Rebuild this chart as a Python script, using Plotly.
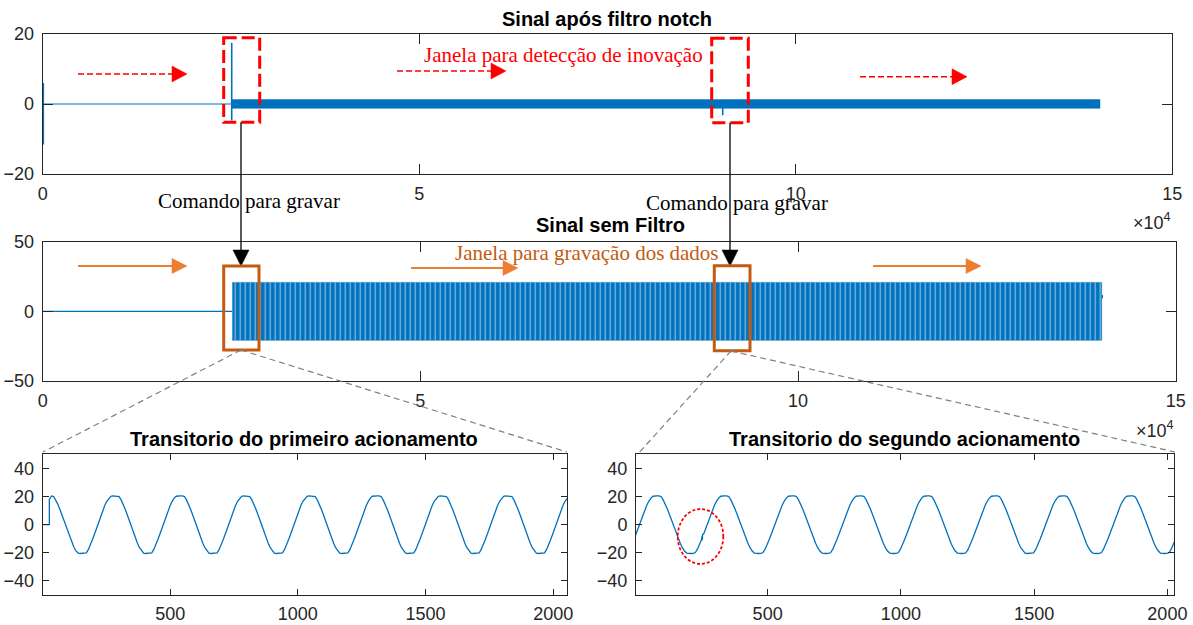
import plotly.graph_objects as go

# ---------------- data ----------------
# Top panel: "Sinal após filtro notch" (samples, amplitude)
notch_line_x = [0, 25100]
notch_line_y = [0, 0]
notch_spike_x = [80, 25100, 90300]
notch_spike_hi = [6.0, 17.5, 0.0]
notch_spike_lo = [-11.6, -4.7, -3.2]
notch_band_x = [25100, 140400]
notch_band_hi = [1.25, 1.25]
notch_band_lo = [-1.25, -1.25]

# Middle panel: "Sinal sem Filtro"
raw_line_x = [0, 25100]
raw_line_y = [0, 0]
raw_band_x = [25100, 140200]
raw_band_hi = [20.8, 20.8]
raw_band_lo = [-20.8, -20.8]
raw_tail_x = [140300, 140300]
raw_tail_y = [9.4, 11.7]

# One cycle of the recorded waveform (samples after a positive peak centre, amplitude)
cycle_offset = [0, 8, 16, 24, 32, 40, 48, 56, 64, 72, 80, 88, 96, 104, 112, 120,
                128, 136, 144, 152, 160, 168, 176, 184, 192, 200, 208, 216, 224, 232, 240, 248]
cycle_value = [20.5, 20.4, 20.0, 17.6, 14.6, 11.0, 7.0, 2.8, -1.4, -5.6, -9.6, -13.2,
               -16.4, -18.8, -20.2, -20.5, -20.5, -20.4, -20.0, -17.6, -14.4, -10.6,
               -6.6, -2.4, 1.8, 6.0, 10.0, 13.6, 16.6, 18.9, 20.2, 20.5]

# Bottom-left: first switching transient
first_start_x = [1, 27, 27, 33]
first_start_y = [0.0, 0.0, 18.0, 20.2]
first_peaks = [-228, 28, 284, 540, 796, 1052, 1310, 1566, 1822, 2078]
first_xrange = [1, 2055]

# Bottom-right: second switching transient
second_peaks = [-170, 84, 338, 592, 846, 1100, 1354, 1608, 1862, 2116]
second_glitch_x = [254, 255, 256]
second_glitch_y = [-8.0, -11.0, -7.0]
second_xrange = [6, 2026]

top_xticks = [0, 50000, 100000, 150000]
top_xticktext = ["0", "5", "10", "15"]

# ---------------- helpers ----------------
W, H = 1193, 625
BLUE = "#0072BD"
AXC = "#262626"
SANS = "Arial, Liberation Sans, Helvetica, sans-serif"
SERIF = "Times New Roman, Liberation Serif, serif"


def PX(x):
    return x / W


def PY(y):
    return 1 - y / H


def build_wave(peaks, lo, hi):
    pts = []
    for c in peaks:
        for o, v in zip(cycle_offset, cycle_value):
            x = c + o
            if lo <= x <= hi:
                pts.append((x, v))
    return pts


fig = go.Figure()

# ---- top panel ----
sx, sy = [], []
for x, h, l in zip(notch_spike_x, notch_spike_hi, notch_spike_lo):
    sx += [x, x, None]
    sy += [h, l, None]
fig.add_trace(go.Scatter(x=notch_line_x, y=notch_line_y, mode="lines",
                         line=dict(color=BLUE, width=1.2), xaxis="x", yaxis="y"))
fig.add_trace(go.Scatter(x=sx, y=sy, mode="lines",
                         line=dict(color=BLUE, width=1.6), xaxis="x", yaxis="y"))
fig.add_trace(go.Scatter(x=notch_band_x + notch_band_x[::-1],
                         y=notch_band_hi + notch_band_lo[::-1],
                         fill="toself", fillcolor=BLUE, mode="lines",
                         line=dict(color=BLUE, width=0.5), xaxis="x", yaxis="y"))

# ---- middle panel ----
fig.add_trace(go.Scatter(x=raw_line_x, y=raw_line_y, mode="lines",
                         line=dict(color=BLUE, width=1.2), xaxis="x2", yaxis="y2"))
fig.add_trace(go.Scatter(x=raw_band_x + raw_band_x[::-1],
                         y=raw_band_hi + raw_band_lo[::-1],
                         fill="toself", fillcolor=BLUE, mode="lines",
                         fillpattern=dict(shape="|", fgcolor="#86bce8", bgcolor=BLUE,
                                          size=5, solidity=0.25),
                         line=dict(color=BLUE, width=0.5), xaxis="x2", yaxis="y2"))
fig.add_trace(go.Scatter(x=raw_tail_x, y=raw_tail_y, mode="lines",
                         line=dict(color=BLUE, width=1.2), xaxis="x2", yaxis="y2"))

# ---- bottom-left ----
w1 = [(x, y) for x, y in zip(first_start_x, first_start_y)]
w1 += [p for p in build_wave(first_peaks, first_xrange[0], first_xrange[1] + 40) if p[0] > first_start_x[-1]]
fig.add_trace(go.Scatter(x=[p[0] for p in w1], y=[p[1] for p in w1], mode="lines",
                         line=dict(color=BLUE, width=1.3), xaxis="x3", yaxis="y3"))

# ---- bottom-right ----
w2 = build_wave(second_peaks, second_xrange[0] - 40, second_xrange[1] + 40)
w2 += list(zip(second_glitch_x, second_glitch_y))
w2.sort(key=lambda p: p[0])
fig.add_trace(go.Scatter(x=[p[0] for p in w2], y=[p[1] for p in w2], mode="lines",
                         line=dict(color=BLUE, width=1.3), xaxis="x4", yaxis="y4"))

# ---------------- axes ----------------
def ax(domain, anchor, rng, tickvals, ticktext=None, ticklen=10, standoff=6):
    d = dict(domain=domain, anchor=anchor, range=rng, tickvals=tickvals,
             showline=True, linecolor=AXC, linewidth=1, mirror="ticks",
             ticks="inside", ticklen=ticklen, tickcolor=AXC, tickwidth=1,
             showgrid=False, zeroline=False, automargin=False,
             tickfont=dict(family=SANS, size=18, color=AXC),
             ticklabelstandoff=standoff)
    if ticktext is not None:
        d["ticktext"] = ticktext
    return d


top_x = [PX(42.7), PX(1172.3)]
top_y = [PY(174), PY(34)]
mid_x = [PX(42.7), PX(1175.7)]
mid_y = [PY(381), PY(241.7)]
bl_x = [PX(42.7), PX(567.3)]
br_x = [PX(636), PX(1174.3)]
bot_y = [PY(595), PY(454.3)]

fig.update_layout(
    template="none",
    width=W, height=H, margin=dict(l=0, r=0, t=0, b=0, pad=0), autosize=False,
    paper_bgcolor="white", plot_bgcolor="white", showlegend=False,
    xaxis=ax(top_x, "y", [0, 150000], top_xticks, top_xticktext, 10, 3),
    yaxis=ax(top_y, "x", [-20, 20], [-20, 0, 20], None, 10, 4),
    xaxis2=ax(mid_x, "y2", [0, 150000], top_xticks, top_xticktext, 10, 3),
    yaxis2=ax(mid_y, "x2", [-50, 50], [-50, 0, 50], None, 10, 4),
    xaxis3=ax(bl_x, "y3", first_xrange, [500, 1000, 1500, 2000], None, 6, 2),
    yaxis3=ax(bot_y, "x3", [-50, 50], [-40, -20, 0, 20, 40], None, 6, 4),
    xaxis4=ax(br_x, "y4", second_xrange, [500, 1000, 1500, 2000], None, 6, 2),
    yaxis4=ax(bot_y, "x4", [-50, 50], [-40, -20, 0, 20, 40], None, 6, 4),
)

# ---------------- decorations ----------------
shapes = []
annotations = []


def line(x0, y0, x1, y1, color, width, dash="solid"):
    shapes.append(dict(type="line", xref="paper", yref="paper",
                       x0=PX(x0), y0=PY(y0), x1=PX(x1), y1=PY(y1),
                       line=dict(color=color, width=width, dash=dash), layer="above"))


def tri(p, color):
    (a, b), (c, d), (e, f) = p
    shapes.append(dict(type="path", xref="paper", yref="paper",
                       path=f"M {PX(a)},{PY(b)} L {PX(c)},{PY(d)} L {PX(e)},{PY(f)} Z",
                       fillcolor=color, line=dict(color=color, width=0.5), layer="above"))


def rect(x0, y0, x1, y1, color, width, dash="solid"):
    shapes.append(dict(type="rect", xref="paper", yref="paper",
                       x0=PX(x0), y0=PY(y0), x1=PX(x1), y1=PY(y1),
                       line=dict(color=color, width=width, dash=dash), layer="above"))


def text(x, y, s, color, size, family, bold=False, xanchor="center"):
    annotations.append(dict(xref="paper", yref="paper", x=PX(x), y=PY(y),
                            text=f"<b>{s}</b>" if bold else s, showarrow=False,
                            xanchor=xanchor, yanchor="middle",
                            font=dict(color=color, size=size, family=family)))


RED = "#FF0000"
ORANGE = "#ED7D31"
BROWN = "#C55A11"
GRAY = "#808080"

# red dashed arrows (top)
for (x0, x1, y) in [(78, 172, 74), (397, 491, 71), (860, 952, 76.7)]:
    line(x0, y, x1, y, RED, 1.5, "6px,3px")
    tri([(x1, y - 8), (x1 + 15, y), (x1, y + 8)], RED)

# red dashed boxes
rect(223.7, 37.7, 259.7, 122.3, RED, 3, "13px,5px")
rect(711.7, 38.3, 748.3, 122.7, RED, 3, "13px,5px")

# black arrows "Comando para gravar"
for x, yb in [(241, 122.3), (730, 122.7)]:
    line(x, yb, x, 252, "black", 1.3)
    tri([(x - 8, 250), (x + 8, 250), (x, 266)], "black")

# orange arrows (middle)
for (x0, x1, y) in [(78, 172, 266), (411, 503, 268), (873, 966, 266)]:
    line(x0, y, x1, y, ORANGE, 2)
    tri([(x1, y - 7.5), (x1 + 15, y), (x1, y + 7.5)], ORANGE)

# orange boxes
rect(223.7, 266, 259, 350, BROWN, 3)
rect(714.3, 265.7, 750, 350.7, BROWN, 3)

# gray zoom connectors
line(241, 350, 43, 452, GRAY, 1.2, "6px,4px")
line(241, 350, 567, 452, GRAY, 1.2, "6px,4px")
line(731, 351, 637, 455, GRAY, 1.2, "6px,4px")
line(731, 351, 1175, 452, GRAY, 1.2, "6px,4px")

# red dotted ellipse
shapes.append(dict(type="circle", xref="paper", yref="paper",
                   x0=PX(677.7), x1=PX(723.3), y0=PY(509), y1=PY(564),
                   line=dict(color=RED, width=1.8, dash="3px,2px"), layer="above"))

# texts
text(607, 19, "Sinal após filtro notch", "black", 20, SANS, bold=True)
text(610, 225, "Sinal sem Filtro", "black", 20, SANS, bold=True)
text(304, 439, "Transitorio do primeiro acionamento", "black", 20, SANS, bold=True)
text(904, 439, "Transitorio do segundo acionamento", "black", 20, SANS, bold=True)
text(563, 55, "Janela para detecção de inovação", RED, 21, SERIF)
text(586.5, 253, "Janela para gravação dos dados", BROWN, 21, SERIF)
text(249, 201, "Comando para gravar", "black", 21, SERIF)
text(737, 203, "Comando para gravar", "black", 21, SERIF)
text(1173, 221, "×10<sup>4</sup>", AXC, 18, SANS, xanchor="right")
text(1176, 429, "×10<sup>4</sup>", AXC, 18, SANS, xanchor="right")

fig.update_layout(shapes=shapes, annotations=annotations)
fig.write_html("out.html")
